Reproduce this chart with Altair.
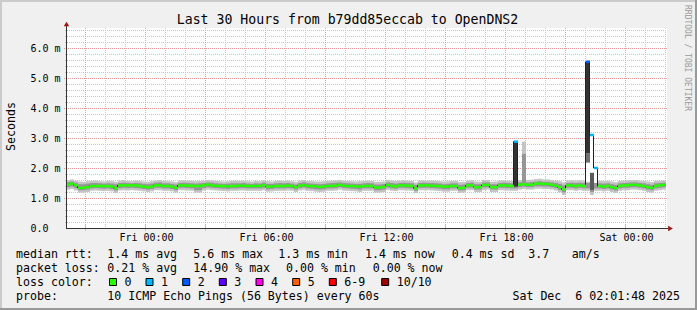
import altair as alt
import pandas as pd

# ---------------- data ----------------
# one value per 12-minute step, in hundredths of a millisecond
MEDIAN = [
    145, 148, 143, 134, 134, 136, 140, 140, 140, 140,
    140, 138, 133, 142, 142, 142, 142, 142, 140, 138,
    136, 138, 142, 142, 140, 140, 138, 134, 142, 142,
    141, 141, 140, 140, 142, 145, 142, 141, 140, 140,
    139, 140, 140, 141, 141, 140, 140, 140, 140, 143,
    138, 138, 140, 140, 140, 141, 140, 136, 141, 143,
    140, 140, 139, 137, 138, 140, 140, 141, 144, 141,
    140, 140, 139, 138, 140, 140, 140, 135, 135, 137,
    144, 140, 139, 142, 142, 141, 140, 132, 142, 142,
    142, 141, 140, 140, 138, 138, 140, 140, 133, 134,
    142, 142, 136, 136, 143, 144, 136, 136, 142, 142,
    141, 140, 288, 144, 146, 144, 144, 148, 148, 147,
    147, 144, 141, 136, 129, 142, 142, 140, 142, 140,
    554, 310, 200, 140, 138, 140, 136, 133, 140, 142,
    142, 144, 144, 142, 140, 136, 134, 140, 142, 144,
]
HI_OUTER = [
    160, 162, 158, 155, 154, 156, 157, 158, 156, 155,
    157, 156, 154, 158, 160, 157, 156, 158, 157, 155,
    154, 156, 158, 160, 157, 156, 155, 153, 158, 159,
    158, 157, 156, 157, 158, 160, 159, 157, 156, 155,
    156, 157, 158, 157, 158, 156, 155, 157, 156, 159,
    156, 155, 157, 158, 157, 158, 156, 154, 158, 160,
    157, 156, 155, 155, 156, 157, 158, 159, 160, 158,
    157, 156, 155, 156, 157, 158, 157, 154, 154, 155,
    160, 158, 157, 158, 159, 158, 157, 152, 158, 159,
    158, 158, 157, 156, 155, 156, 157, 157, 153, 154,
    158, 159, 155, 154, 160, 160, 154, 155, 158, 159,
    158, 157, 157, 160, 288, 160, 161, 163, 164, 162,
    162, 160, 158, 156, 152, 158, 159, 158, 159, 158,
    158, 157, 158, 157, 156, 157, 155, 153, 157, 158,
    159, 160, 160, 158, 157, 155, 153, 157, 158, 159,
]
LO_OUTER = [
    128, 130, 125, 118, 118, 120, 124, 125, 124, 123,
    124, 122, 117, 125, 126, 125, 126, 125, 124, 122,
    120, 122, 126, 126, 124, 124, 122, 118, 126, 126,
    125, 124, 118, 118, 125, 128, 126, 125, 124, 123,
    122, 124, 124, 125, 125, 124, 124, 124, 124, 126,
    121, 122, 124, 124, 124, 125, 124, 120, 125, 127,
    124, 123, 121, 120, 121, 124, 124, 125, 128, 125,
    124, 123, 122, 120, 124, 124, 124, 118, 118, 120,
    127, 124, 123, 126, 126, 125, 124, 116, 126, 126,
    126, 125, 124, 123, 121, 121, 124, 124, 117, 118,
    126, 126, 120, 120, 127, 128, 120, 120, 126, 126,
    125, 124, 124, 128, 130, 128, 128, 131, 131, 130,
    130, 128, 125, 119, 110, 126, 126, 124, 126, 124,
    124, 110, 124, 124, 122, 124, 120, 117, 124, 126,
    126, 128, 128, 126, 124, 120, 118, 124, 126, 128,
]
HI_MID = [
    153, 155, 151, 146, 146, 148, 150, 150, 149, 148,
    149, 148, 146, 150, 151, 150, 149, 150, 149, 147,
    146, 148, 151, 152, 149, 149, 147, 145, 150, 151,
    150, 149, 148, 149, 150, 152, 151, 149, 148, 147,
    148, 149, 149, 149, 150, 148, 147, 149, 148, 151,
    147, 147, 149, 150, 149, 150, 148, 145, 150, 152,
    149, 148, 147, 146, 147, 149, 150, 151, 152, 150,
    149, 148, 147, 147, 149, 150, 149, 145, 145, 147,
    152, 150, 148, 150, 151, 150, 149, 144, 150, 151,
    150, 150, 149, 148, 146, 147, 149, 149, 144, 145,
    150, 151, 146, 146, 152, 152, 146, 146, 150, 151,
    150, 149, 149, 152, 247, 152, 153, 155, 156, 154,
    154, 152, 150, 147, 142, 150, 151, 150, 151, 150,
    150, 149, 150, 149, 148, 149, 146, 144, 149, 150,
    151, 152, 152, 150, 149, 146, 144, 149, 150, 151,
]
LO_MID = [
    136, 138, 133, 126, 126, 128, 132, 133, 132, 131,
    132, 130, 125, 133, 134, 133, 134, 133, 132, 130,
    128, 130, 134, 134, 132, 132, 130, 126, 134, 134,
    133, 132, 126, 126, 133, 136, 134, 133, 132, 131,
    130, 132, 132, 133, 133, 132, 132, 132, 132, 134,
    129, 130, 132, 132, 132, 133, 132, 128, 133, 135,
    132, 131, 129, 128, 129, 132, 132, 133, 136, 133,
    132, 131, 130, 128, 132, 132, 132, 126, 126, 128,
    135, 132, 131, 134, 134, 133, 132, 124, 134, 134,
    134, 133, 132, 131, 129, 129, 132, 132, 125, 126,
    134, 134, 128, 128, 135, 136, 128, 128, 134, 134,
    133, 132, 132, 136, 138, 136, 136, 139, 139, 138,
    138, 136, 133, 127, 119, 134, 134, 132, 134, 132,
    132, 120, 132, 132, 130, 132, 128, 125, 132, 134,
    134, 136, 136, 134, 132, 128, 126, 132, 134, 136,
]
# steps that lost packets (all others: 0 lost)
LOSS_STEP = [112, 130, 131, 132]
LOSS_LEVEL = ["1", "2", "1", "1"]

# extra smoke segments of the two spikes (ms)
SPIKE_STEP = [112, 130, 130, 130, 131, 131, 132]
SPIKE_LO = [1.38, 1.54, 2.18, 2.49, 1.84, 1.27, 1.50]
SPIKE_HI = [2.88, 2.18, 2.49, 5.54, 3.10, 1.84, 2.00]
SPIKE_KIND = ["dark", "gap", "mid", "dark", "gap", "mid2", "gap"]

LOSS_LABELS = ["0", "1", "2", "3", "4", "5", "6-9", "10/10"]
LOSS_COLORS = ["#26ff00", "#00b8ff", "#0059ff", "#5e00ff", "#ff00ea",
               "#ff5e00", "#ff0000", "#a10000"]

Y_TICKS = [0, 1, 2, 3, 4, 5, 6]
Y_TICK_LABELS = ["0.0", "1.0 m", "2.0 m", "3.0 m", "4.0 m", "5.0 m", "6.0 m"]
X_TICKS = [0, 6, 12, 18, 24]            # hours after Fri 00:00
X_TICK_LABELS = ["Fri 00:00", "Fri 06:00", "Fri 12:00", "Fri 18:00", "Sat 00:00"]

TITLE = "Last 30 Hours from b79dd85eccab to OpenDNS2"
WATERMARK = "RRDTOOL / TOBI OETIKER"
ROW1 = ["median rtt:", "1.4 ms avg", "5.6 ms max", "1.3 ms min", "1.4 ms now",
        "0.4 ms sd", "3.7", "am/s"]
ROW2 = ["packet loss:", "0.21 % avg", "14.90 % max", "0.00 % min", "0.00 % now"]
ROW3 = ["loss color:"]
ROW4 = ["probe:", "10 ICMP Echo Pings (56 Bytes) every 60s"]
STAMP = "Sat Dec\u00a0 6 02:01:48 2025"

# ---------------- layout / style ----------------
MONO = "DejaVu Sans Mono"
PL, PT = 67, 28               # plot origin in the page
W, H = 600, 200
STEP_H = 0.2
FIRST_STEP_H = -4.0
X_DOMAIN = [-3.95, 26.05]
Y_DOMAIN = [0, 20 / 3]
GRID_MINOR = "#c6c6c6"
GRID_MAJOR = "#eb9a9a"
ARROW = "#a31515"
AXISC = "#333333"
SMOKE_OUTER = "#c4c4c4"
SMOKE_MID = "#969696"

xs = alt.Scale(domain=X_DOMAIN, nice=False, zero=False)
ys = alt.Scale(domain=Y_DOMAIN, nice=False, zero=False)

n = len(MEDIAN)
loss = ["0"] * n
for s, lv in zip(LOSS_STEP, LOSS_LEVEL):
    loss[s] = lv
steps = pd.DataFrame({
    "t0": [FIRST_STEP_H + STEP_H * k for k in range(n)],
    "t1": [FIRST_STEP_H + STEP_H * (k + 1) for k in range(n)],
    "tc": [FIRST_STEP_H + STEP_H * (k + 0.5) for k in range(n)],
    "med": [v / 100 for v in MEDIAN],
    "lo1": [v / 100 for v in LO_OUTER],
    "hi1": [v / 100 for v in HI_OUTER],
    "lo2": [v / 100 for v in LO_MID],
    "hi2": [v / 100 for v in HI_MID],
    "loss": loss,
})
spikes = pd.DataFrame({
    "t0": [FIRST_STEP_H + STEP_H * k for k in SPIKE_STEP],
    "t1": [FIRST_STEP_H + STEP_H * (k + 1) for k in SPIKE_STEP],
    "lo": SPIKE_LO, "hi": SPIKE_HI, "kind": SPIKE_KIND,
})

hours = list(range(-3, 27))
minor_v = pd.DataFrame({"h": [float(h) for h in hours if h % 3 != 0]})
major_v = pd.DataFrame({"h": [float(h) for h in hours if h % 3 == 0]})
minor_h = pd.DataFrame({"v": [i / 5 for i in range(1, 34) if i % 5 != 0]})
major_h = pd.DataFrame({"v": [float(i) for i in range(1, 7)]})
ONE = pd.DataFrame({"d": [0]})

x_expr = " : ".join(f"datum.value == {v} ? '{t}'" for v, t in zip(X_TICKS, X_TICK_LABELS)) + " : ''"
y_expr = " : ".join(f"datum.value == {v} ? '{t}'" for v, t in zip(Y_TICKS, Y_TICK_LABELS)) + " : ''"

x_axis = alt.Axis(values=X_TICKS, labelExpr=x_expr, labelFont=MONO, labelFontSize=10,
                  labelColor="#000000", labelPadding=12.5, labelBaseline="alphabetic",
                  labelFlush=False, labelOverlap=False, ticks=False, domain=False,
                  grid=False, title=None)
y_axis = alt.Axis(values=Y_TICKS, labelExpr=y_expr, labelFont=MONO, labelFontSize=10,
                  labelColor="#000000", labelPadding=37, labelAlign="left",
                  labelBaseline="middle", labelFlush=False, labelOverlap=False,
                  ticks=False, domain=False, grid=False,
                  title="Seconds", titleFont=MONO, titleFontSize=11.6,
                  titleFontWeight="normal", titleColor="#000000", titleX=-56,
                  titleY=98, titleAngle=270, titleAlign="center", titleBaseline="middle")


def X(field):
    return alt.X(field, scale=xs, axis=x_axis)


def Y(field):
    return alt.Y(field, scale=ys, axis=y_axis)


def fixed_rect(x0, x1, y0, y1, color):
    return alt.Chart(ONE).mark_rect(color=color).encode(
        x=alt.value(x0 - PL), x2=alt.value(x1 - PL),
        y=alt.value(y0 - PT), y2=alt.value(y1 - PT))


def text(s, x, y, size=11.6, align="left", baseline="alphabetic", angle=0, color="#000000"):
    return alt.Chart(ONE).mark_text(text=s, font=MONO, fontSize=size, align=align,
                                    baseline=baseline, angle=angle, color=color).encode(
        x=alt.value(x - PL), y=alt.value(y - PT))


layers = []
# 3D frame
layers += [fixed_rect(0, 697, 0, 2, "#cbcbcb"), fixed_rect(0, 2, 0, 310, "#cbcbcb"),
           fixed_rect(695, 697, 0, 310, "#999999"), fixed_rect(0, 697, 308, 310, "#999999")]

# grid
layers.append(alt.Chart(minor_v).mark_rule(color=GRID_MINOR, strokeDash=[1, 1], xOffset=-0.5).encode(
    x=X("h:Q")))
layers.append(alt.Chart(minor_h).mark_rule(color=GRID_MINOR, strokeDash=[1, 1], yOffset=0.5).encode(
    y=Y("v:Q"), x=alt.value(-2), x2=alt.value(W)))
layers.append(alt.Chart(major_v).mark_rule(color=GRID_MAJOR, strokeDash=[1, 1], xOffset=-0.5).encode(
    x=X("h:Q")))
layers.append(alt.Chart(major_h).mark_rule(color=GRID_MAJOR, strokeDash=[1, 1], yOffset=0.5).encode(
    y=Y("v:Q"), x=alt.value(-3), x2=alt.value(W)))
# grid marks continuing below the time axis
layers.append(alt.Chart(major_v).mark_tick(color=GRID_MAJOR, orient="vertical", thickness=1,
                                           size=6, xOffset=-0.5).encode(
    x=X("h:Q"), y=alt.value(H)))

# smoke
layers.append(alt.Chart(steps).mark_rect(color=SMOKE_OUTER).encode(
    x=X("t0:Q"), x2="t1:Q", y=Y("lo1:Q"), y2="hi1:Q"))
layers.append(alt.Chart(steps).mark_rect(color=SMOKE_MID).encode(
    x=X("t0:Q"), x2="t1:Q", y=Y("lo2:Q"), y2="hi2:Q"))
layers.append(alt.Chart(spikes).mark_rect().encode(
    x=X("t0:Q"), x2="t1:Q", y=Y("lo:Q"), y2="hi:Q",
    color=alt.Color("kind:N", scale=alt.Scale(domain=["dark", "mid", "mid2", "gap"],
                                              range=["#333333", "#707070", "#5a5a5a", "#ffffff"]),
                    legend=None)))

# median: thin dark line + loss-coloured segments
layers.append(alt.Chart(steps).mark_line(interpolate="step", color="#202020", strokeWidth=1,
                                         xOffset=-0.5).encode(x=X("tc:Q"), y=Y("med:Q")))
layers.append(alt.Chart(steps).mark_rule(strokeWidth=2.5).encode(
    x=X("t0:Q"), x2="t1:Q", y=Y("med:Q"),
    stroke=alt.Stroke("loss:N", scale=alt.Scale(domain=LOSS_LABELS, range=LOSS_COLORS),
                      legend=None)))

# axis lines and arrows
layers.append(alt.Chart(ONE).mark_rule(color=AXISC, xOffset=-0.5).encode(
    x=alt.value(0), y=alt.value(H), y2=alt.value(-3)))
layers.append(alt.Chart(ONE).mark_rule(color=AXISC, yOffset=0.5).encode(
    y=alt.value(H), x=alt.value(-1), x2=alt.value(W + 1)))
layers.append(alt.Chart(ONE).mark_point(shape="triangle-up", filled=True, size=30, color=ARROW,
                                        opacity=1).encode(x=alt.value(-0.5), y=alt.value(-4)))
layers.append(alt.Chart(ONE).mark_point(shape="triangle-right", filled=True, size=30, color=ARROW,
                                        opacity=1).encode(x=alt.value(W + 3.5), y=alt.value(H + 0.5)))

# title and watermark
layers.append(text(TITLE, 347.5, 24, size=13.2, align="center"))
layers.append(text(WATERMARK, 687, 5, size=8, angle=90, baseline="middle", color="#9a9a9a"))

# legend block
ROW1_X = [16, 107.3, 193.3, 278.3, 365, 451.7, 528.3, 571.7]
ROW2_X = [16, 107.3, 193.3, 286, 372.7]
ROW_Y = [257.5, 271.5, 285.5, 299.5]
for s, x in zip(ROW1, ROW1_X):
    layers.append(text(s, x, ROW_Y[0]))
for s, x in zip(ROW2, ROW2_X):
    layers.append(text(s, x, ROW_Y[1]))
layers.append(text(ROW3[0], 16, ROW_Y[2]))
for s, x in zip(ROW4, [16, 107.3]):
    layers.append(text(s, x, ROW_Y[3]))
layers.append(text(STAMP, 680, ROW_Y[3], align="right"))

BOX_X = [109.5, 146, 182.7, 219.3, 256, 292.7, 329.3, 381.7]
for lab, col, bx in zip(LOSS_LABELS, LOSS_COLORS, BOX_X):
    layers.append(alt.Chart(ONE).mark_rect(fill=col, stroke="#000000", strokeWidth=1).encode(
        x=alt.value(bx - PL), x2=alt.value(bx + 7 - PL),
        y=alt.value(278.5 - PT), y2=alt.value(285.5 - PT)))
    layers.append(text(lab, bx + 15, ROW_Y[2]))

chart = alt.layer(*layers).resolve_scale(color="independent", stroke="independent").properties(
    width=W, height=H,
    padding={"left": PL, "top": PT, "right": 697 - PL - W, "bottom": 310 - PT - H},
    autosize=alt.AutoSizeParams(type="none"),
    background="#f0f0f0",
).configure_view(strokeWidth=0, fill="#ffffff")

chart.save("out.html", embed_options={"renderer": "svg", "actions": False})
